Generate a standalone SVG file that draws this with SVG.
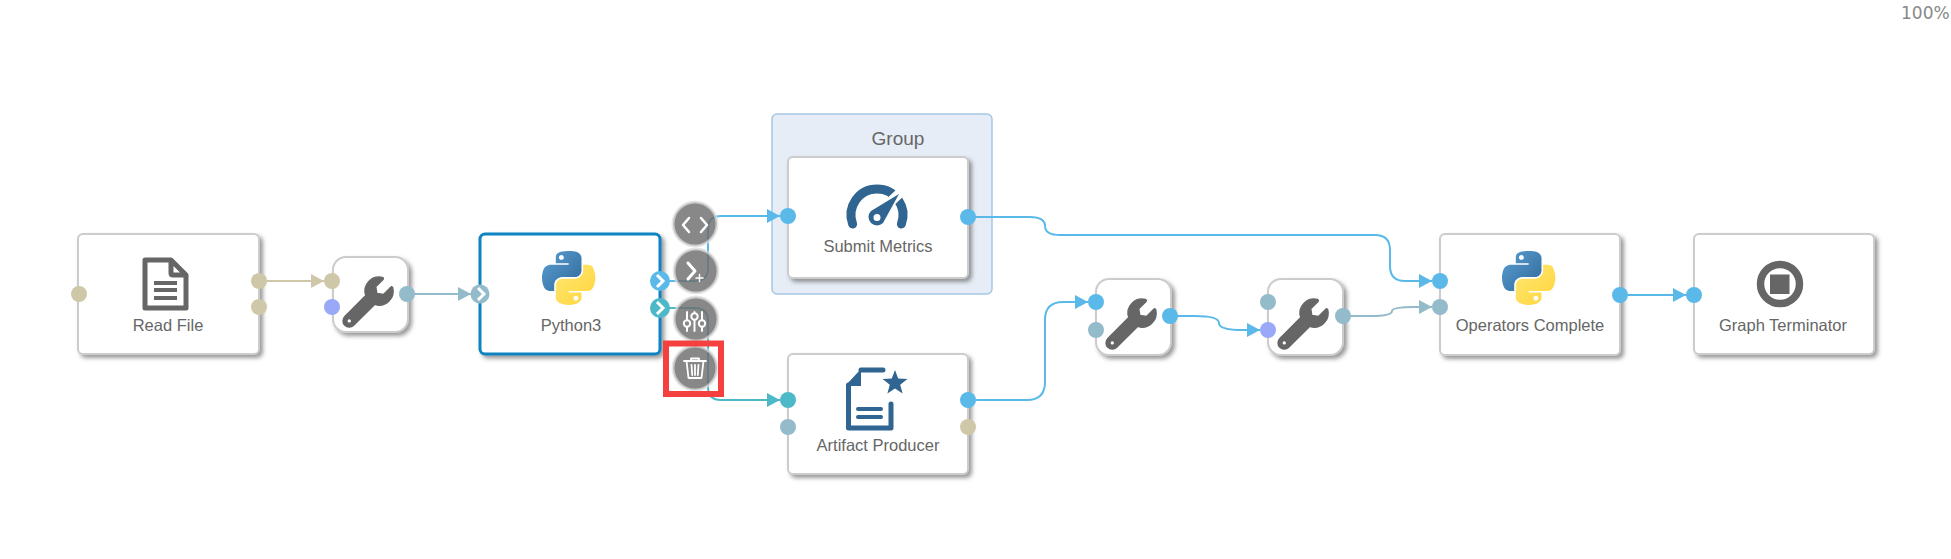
<svg xmlns="http://www.w3.org/2000/svg" width="1951" height="559" viewBox="0 0 1951 559">
<style>
text{font-family:"Liberation Sans",Arial,sans-serif;fill:#666;font-size:16.5px;text-anchor:middle}
.card{fill:#fff;stroke:#ccc;stroke-width:2;filter:url(#sh)}
.sel{fill:#fff;stroke:#0a84c1;stroke-width:3;filter:url(#sh)}
.c{fill:none;stroke-width:2}
.tan{fill:#cfc8a8}.vio{fill:#99a8f7}.blu{fill:#5bb9e9}.gry{fill:#93bbc9}.tea{fill:#4db8c8}
.btn{fill:#6e6e6e;fill-opacity:.82;stroke:#ddd;stroke-opacity:.7;stroke-width:3}
.ico{fill:none;stroke:#fff;stroke-width:2.5;stroke-linecap:round;stroke-linejoin:round}
.chev{fill:none;stroke:#fff;stroke-width:3;stroke-linejoin:miter}
.dg{fill:none;stroke:#666;stroke-width:5}
.db{fill:none;stroke:#2f6590;stroke-width:5}
</style>
<defs>
<filter id="sh" x="-10%" y="-10%" width="125%" height="125%"><feDropShadow dx="3" dy="3" stdDeviation="2.2" flood-color="#555" flood-opacity=".6"/></filter>
<marker id="aT" markerUnits="userSpaceOnUse" markerWidth="14" markerHeight="14" refX="13" refY="7" orient="auto"><path d="M0 0L13 7L0 14z" fill="#cfc8a8"/></marker>
<marker id="aG" markerUnits="userSpaceOnUse" markerWidth="14" markerHeight="14" refX="13" refY="7" orient="auto"><path d="M0 0L13 7L0 14z" fill="#93bbc9"/></marker>
<marker id="aB" markerUnits="userSpaceOnUse" markerWidth="14" markerHeight="14" refX="13" refY="7" orient="auto"><path d="M0 0L13 7L0 14z" fill="#5bb9e9"/></marker>
<marker id="aE" markerUnits="userSpaceOnUse" markerWidth="14" markerHeight="14" refX="13" refY="7" orient="auto"><path d="M0 0L13 7L0 14z" fill="#4db8c8"/></marker>
<linearGradient id="pb" x1="0" y1="0" x2="1" y2="1"><stop offset="0" stop-color="#5a9fd4"/><stop offset="1" stop-color="#306998"/></linearGradient>
<linearGradient id="py" x1="0" y1="0" x2="1" y2="1"><stop offset="0" stop-color="#ffe873"/><stop offset="1" stop-color="#ffd43b"/></linearGradient>
<g id="wrench"><path fill="#666" stroke="#666" stroke-width="14" fill-rule="evenodd" d="M507.73 109.1c-2.24-9.03-13.54-12.09-20.12-5.51l-74.36 74.36-67.88-11.31-11.31-67.88 74.36-74.36c6.62-6.62 3.43-17.9-5.66-20.16-47.38-11.74-99.55.91-136.58 37.93-39.64 39.64-50.55 97.1-34.05 147.2L18.74 402.76c-24.99 24.99-24.99 65.51 0 90.5 24.99 24.99 65.51 24.99 90.5 0l213.21-213.21c50.12 16.71 107.47 5.68 147.37-34.22 37.07-37.07 49.7-89.32 37.91-136.73zM64 472c-13.25 0-24-10.75-24-24 0-13.26 10.75-24 24-24s24 10.74 24 24c0 13.25-10.75 24-24 24z"/></g>
<g id="python">
<path fill="url(#pb)" fill-rule="evenodd" d="M54.9 0C50.3 0 46 .4 42.1 1.1 30.8 3.1 28.7 7.3 28.7 15V25.3H55.5V28.7H18.6C10.8 28.7 4 33.3 1.9 42.3-.6 52.5-.7 58.8 1.9 69.5 3.8 77.4 8.3 83.1 16.1 83.1H25.4V70.8C25.4 62 33 54.2 42.1 54.2H68.9C76.3 54.2 82.3 48 82.3 40.6V15C82.3 7.8 76.2 2.3 68.9 1.1 64.3.3 59.5 0 54.9 0ZM40.4 8.2C43.2 8.2 45.5 10.5 45.5 13.3 45.5 16.2 43.2 18.4 40.4 18.4 37.6 18.4 35.4 16.2 35.4 13.3 35.4 10.5 37.6 8.2 40.4 8.2Z"/>
<path fill="url(#py)" fill-rule="evenodd" d="M85.6 28.7V40.6C85.6 49.8 77.8 57.6 68.9 57.6H42.1C34.8 57.6 28.7 63.8 28.7 71.2V96.7C28.7 104 35 108.3 42.1 110.3 50.6 112.8 58.7 113.3 68.9 110.3 75.6 108.4 82.3 104.5 82.3 96.7V86.5H55.5V83.1H95.7C103.5 83.1 106.4 77.7 109.1 69.5 111.9 61.1 111.8 53 109.1 42.3 107.2 34.5 103.5 28.7 95.7 28.7ZM70.6 93.3C73.4 93.3 75.6 95.6 75.6 98.4 75.6 101.2 73.4 103.5 70.6 103.5 67.8 103.5 65.5 101.2 65.5 98.4 65.5 95.6 67.8 93.3 70.6 93.3Z"/>
</g>
</defs>

<text x="1901" y="19" style="font-family:'DejaVu Sans',sans-serif;font-size:17px;fill:#888;text-anchor:start">100%</text>

<g id="group">
<rect x="772" y="114" width="220" height="180" rx="5" fill="#e6edf6" stroke="#a5c8e4" stroke-width="1.5"/>
<text x="898" y="145" style="font-size:19px">Group</text>
</g>

<g id="connectors">
<path class="c" stroke="#cfc8a8" marker-end="url(#aT)" d="M259 281H324"/>
<path class="c" stroke="#93bbc9" marker-end="url(#aG)" d="M407 294H471"/>
<path class="c" stroke="#5bb9e9" marker-end="url(#aB)" d="M660 281H695Q708 281 708 268V229Q708 216 721 216H780"/>
<path class="c" stroke="#4db8c8" marker-end="url(#aE)" d="M660 308H695Q708 308 708 321V387Q708 400 721 400H780"/>
<path class="c" stroke="#5bb9e9" marker-end="url(#aB)" d="M968 217H1030Q1045 217 1045 226Q1045 235 1060 235H1375Q1390 235 1390 250V266Q1390 281 1405 281H1432"/>
<path class="c" stroke="#5bb9e9" marker-end="url(#aB)" d="M968 400H1027Q1045 400 1045 382V320Q1045 302 1063 302H1088"/>
<path class="c" stroke="#5bb9e9" marker-end="url(#aB)" d="M1170 316H1195Q1219 316 1219 323Q1219 330 1243 330H1260"/>
<path class="c" stroke="#93bbc9" marker-end="url(#aG)" d="M1343 316H1370Q1392 316 1392 311Q1392 307 1415 307H1432"/>
<path class="c" stroke="#5bb9e9" marker-end="url(#aB)" d="M1620 295H1686"/>
</g>

<g id="read-file">
<rect class="card" x="78" y="234" width="181" height="120" rx="5"/>
<path class="dg" stroke-linejoin="round" d="M171 260H145V308H186V275ZM171 260V273Q171 275 173 275H186"/>
<path d="M154 283H177M154 290H177M154 298H177" fill="none" stroke="#666" stroke-width="4"/>
<text x="168" y="331">Read File</text>
<circle class="tan" cx="79" cy="294" r="8"/><circle class="tan" cx="259" cy="281" r="8"/><circle class="tan" cx="259" cy="307" r="8"/>
</g>

<g id="wrench-1">
<rect class="card" x="333" y="257" width="75" height="75" rx="13"/>
<use href="#wrench" transform="translate(343 277) scale(.098)"/>
<circle class="tan" cx="332" cy="281" r="8"/><circle class="vio" cx="332" cy="307" r="8"/><circle class="gry" cx="407" cy="294" r="8"/>
</g>

<g id="python3">
<rect class="sel" x="480" y="234" width="180" height="120" rx="5"/>
<use href="#python" transform="translate(542 251) scale(.48)"/>
<text x="571" y="331">Python3</text>
<circle class="gry" cx="480" cy="294" r="9.5"/><path class="chev" d="M478 288L484 294L478 300"/>
<circle class="blu" cx="660" cy="281" r="10"/><path class="chev" d="M657 275L663 281L657 287"/>
<circle class="tea" cx="660" cy="308" r="10"/><path class="chev" d="M657 302L663 308L657 314"/>
</g>

<g id="actions">
<circle class="btn" cx="695" cy="224" r="22"/>
<path class="ico" d="M689 218L683 225L689 232M701 218L707 225L701 232"/>
<circle class="btn" cx="696" cy="271" r="22"/>
<path class="ico" style="stroke-width:3" d="M688 263L695 271L688 279"/><path class="ico" style="stroke-width:1.5" d="M696 278H703M699.500 274.500V281.500"/>
<circle class="btn" cx="696" cy="319" r="22"/>
<path class="ico" style="stroke-width:2" d="M687 312V320M687 327V331M694.500 312V313M694.500 320V331M702 312V320M702 327V331"/>
<g fill="none" stroke="#fff" stroke-width="2"><circle cx="687" cy="323.500" r="3.200"/><circle cx="694.500" cy="316.500" r="3.200"/><circle cx="702" cy="323.500" r="3.200"/></g>
<circle class="btn" cx="695" cy="368" r="22"/>
<path class="ico" style="stroke-width:1.800" d="M684 361H706M691 361V358.500H699V361M686.500 361L688.500 378H701.500L703.500 361M691.500 365L692.200 375M695 365V375M698.500 365L697.800 375"/>
<rect x="666" y="343.500" width="55" height="50.500" fill="none" stroke="#f4403f" stroke-width="6"/>
</g>

<g id="submit-metrics">
<rect class="card" x="788" y="157" width="180" height="121" rx="5"/>
<path d="M852.600 224A26 26 0 1 1 901.400 224" fill="none" stroke="#2f6590" stroke-width="9" stroke-linecap="round"/>
<path d="M883 209L904 189" fill="none" stroke="#fff" stroke-width="10"/>
<path fill="#2f6590" fill-rule="evenodd" d="M871 211L899 194L883 223A8 8 0 0 1 871 211ZM877 214A3.500 3.500 0 1 0 877 221A3.500 3.500 0 1 0 877 214Z"/>
<text x="878" y="252">Submit Metrics</text>
<circle class="blu" cx="788" cy="216" r="8"/><circle class="blu" cx="968" cy="217" r="8"/>
</g>

<g id="artifact-producer">
<rect class="card" x="788" y="354" width="180" height="120" rx="5"/>
<path fill="#2f6590" d="M846 385L861 369V386Q861 386 858 386H846Z"/>
<path class="db" stroke-linecap="round" stroke-linejoin="round" d="M861 370H883M848.500 385V428H891V404"/>
<path d="M858 409H881M858 417H881" fill="none" stroke="#2f6590" stroke-width="4" stroke-linecap="round"/>
<path fill="#2f6590" d="M895 370L898.200 378.600L907.400 379L900.200 384.700L902.600 393.500L895 388.500L887.400 393.500L889.800 384.700L882.600 379L891.800 378.600Z"/>
<text x="878" y="451">Artifact Producer</text>
<circle class="tea" cx="788" cy="400" r="8"/><circle class="gry" cx="788" cy="427" r="8"/><circle class="blu" cx="968" cy="400" r="8"/><circle class="tan" cx="968" cy="427" r="8"/>
</g>

<g id="wrench-2">
<rect class="card" x="1096" y="279" width="75" height="76" rx="13"/>
<use href="#wrench" transform="translate(1106 299) scale(.098)"/>
<circle class="blu" cx="1096" cy="302" r="8"/><circle class="gry" cx="1096" cy="330" r="8"/><circle class="blu" cx="1170" cy="316" r="8"/>
</g>

<g id="wrench-3">
<rect class="card" x="1268" y="279" width="75" height="76" rx="13"/>
<use href="#wrench" transform="translate(1278 299) scale(.098)"/>
<circle class="gry" cx="1268" cy="302" r="8"/><circle class="vio" cx="1268" cy="330" r="8"/><circle class="gry" cx="1343" cy="316" r="8"/>
</g>

<g id="operators-complete">
<rect class="card" x="1440" y="234" width="180" height="121" rx="5"/>
<use href="#python" transform="translate(1502 251) scale(.48)"/>
<text x="1530" y="331">Operators Complete</text>
<circle class="blu" cx="1440" cy="281" r="8"/><circle class="gry" cx="1440" cy="307" r="8"/><circle class="blu" cx="1620" cy="295" r="8"/>
</g>

<g id="graph-terminator">
<rect class="card" x="1694" y="234" width="180" height="120" rx="5"/>
<circle cx="1780" cy="284" r="19.500" fill="none" stroke="#666" stroke-width="7.500"/>
<rect x="1770" y="274.500" width="19.500" height="19.500" fill="#666"/>
<text x="1783" y="331">Graph Terminator</text>
<circle class="blu" cx="1694" cy="295" r="8"/>
</g>
</svg>
